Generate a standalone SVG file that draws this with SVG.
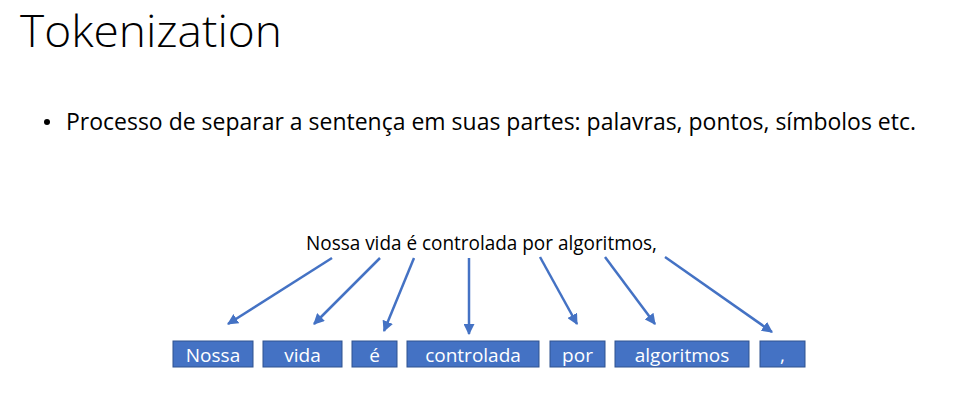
<svg xmlns="http://www.w3.org/2000/svg" width="974" height="407" viewBox="0 0 974 407">
<defs>
<marker id="ah" viewBox="0 0 10 10" refX="9" refY="5" markerWidth="4.4" markerHeight="4.4" orient="auto" markerUnits="strokeWidth">
<path d="M0,0 L10,5 L0,10 z" fill="#4472C4"/>
</marker>
<style>
.t{font-family:"Open Sans","Liberation Sans",sans-serif;fill:#000}
.box rect{fill:#4472C4;stroke:#2F528F;stroke-width:1}
.box text{font-family:"Open Sans","Liberation Sans",sans-serif;font-size:19px;fill:#fff;text-anchor:middle}
.c line{stroke:#4472C4;stroke-width:2.5;marker-end:url(#ah)}
</style>
</defs>
<rect width="974" height="407" fill="#fff"/>
<text class="t" x="20" y="47" font-size="44" font-weight="300" textLength="262" lengthAdjust="spacingAndGlyphs">Tokenization</text>
<circle cx="47" cy="122" r="3" fill="#000"/>
<text class="t" x="66" y="130" font-size="23.5" textLength="850" lengthAdjust="spacingAndGlyphs">Processo de separar a sentença em suas partes: palavras, pontos, símbolos etc.</text>
<text class="t" x="306" y="250" font-size="20" textLength="351" lengthAdjust="spacingAndGlyphs">Nossa vida é controlada por algoritmos,</text>
<g class="c" id="connectors">
<line x1="332" y1="258" x2="228" y2="324"/>
<line x1="380" y1="258" x2="314" y2="324"/>
<line x1="414" y1="258" x2="384" y2="331"/>
<line x1="469" y1="258" x2="469" y2="334"/>
<line x1="540" y1="257" x2="577" y2="324"/>
<line x1="605" y1="257" x2="655" y2="324"/>
<line x1="665" y1="257" x2="772" y2="332"/>
</g>
<g class="box" id="n1"><rect x="173" y="341" width="80" height="26"/><text x="213" y="361.5">Nossa</text></g>
<g class="box" id="n2"><rect x="263" y="341" width="79" height="26"/><text x="302.5" y="361.5">vida</text></g>
<g class="box" id="n3"><rect x="352" y="341" width="45" height="26"/><text x="374.5" y="361.5">é</text></g>
<g class="box" id="n4"><rect x="407" y="341" width="132" height="26"/><text x="473" y="361.5">controlada</text></g>
<g class="box" id="n5"><rect x="550" y="341" width="55" height="26"/><text x="577.5" y="361.5">por</text></g>
<g class="box" id="n6"><rect x="615" y="341" width="134" height="26"/><text x="682" y="361.5">algoritmos</text></g>
<g class="box" id="n7"><rect x="760" y="341" width="45" height="26"/><text x="782.5" y="361.5">,</text></g>
</svg>
